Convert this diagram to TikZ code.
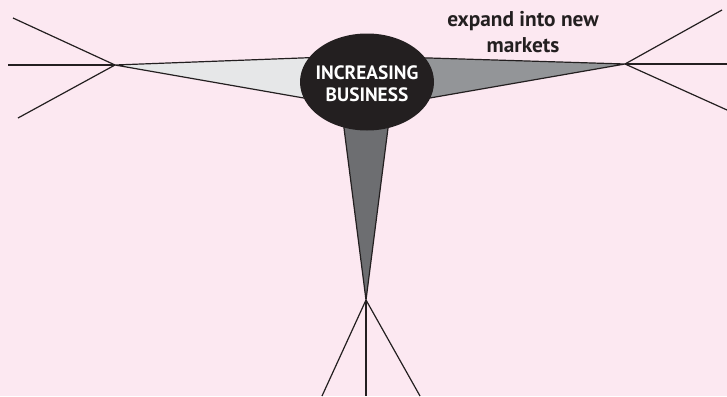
\documentclass[tikz,border=0pt]{standalone}
\usepackage{fontspec}
\setmainfont{PT Sans}
\usetikzlibrary{shapes.geometric}
\definecolor{bgpink}{HTML}{FCE8F1}
\definecolor{inkdark}{HTML}{231F20}
\definecolor{lightwedge}{HTML}{E6E7E8}
\definecolor{midwedge}{HTML}{939598}
\definecolor{darkwedge}{HTML}{6D6E71}
\tikzset{
  spoke/.style={draw=inkdark, line width=0.9pt},
  wedge/.style={draw=inkdark, line width=0.9pt, line join=round},
  hubel/.style={ellipse, fill=inkdark, minimum width=134*0.75pt, minimum height=97*0.75pt, inner sep=0pt, text=white, font=\bfseries\fontsize{14.5}{16.5}\selectfont, align=center},
  lbl/.style={font=\bfseries\fontsize{16}{19}\selectfont, text=inkdark, align=center}
}
\begin{document}
\begin{tikzpicture}[x=0.75pt,y=-0.75pt]
\fill[bgpink] (0,0) rectangle (727,396);
\useasboundingbox (0,0) rectangle (727,396);
% hubs
\coordinate (hl) at (115,65);
\coordinate (hr) at (625,64);
\coordinate (hb) at (366,300);
% spoke ends
\coordinate (l1) at (13,18);
\coordinate (l2) at (8,65);
\coordinate (l3) at (18,118);
\coordinate (r1) at (722,10);
\coordinate (r2) at (727,64);
\coordinate (r3) at (727,110);
\coordinate (b1) at (322,396);
\coordinate (b2) at (366,396);
\coordinate (b3) at (420,396);
% wedge bases (hidden under the ellipse)
\coordinate (lt) at (330,56.9);
\coordinate (lb) at (330,102.6);
\coordinate (rt) at (400,57.1);
\coordinate (rb) at (400,103.2);
\coordinate (bl) at (340.4,100);
\coordinate (br) at (391.6,100);
% wedges
\filldraw[wedge, fill=lightwedge] (hl) -- (lt) -- (lb) -- cycle;
\filldraw[wedge, fill=midwedge] (hr) -- (rt) -- (rb) -- cycle;
\filldraw[wedge, fill=darkwedge] (hb) -- (bl) -- (br) -- cycle;
% spokes
\draw[spoke] (hl) -- (l1);
\draw[spoke] (hl) -- (l2);
\draw[spoke] (hl) -- (l3);
\draw[spoke] (hr) -- (r1);
\draw[spoke] (hr) -- (r2);
\draw[spoke] (hr) -- (r3);
\draw[spoke] (hb) -- (b1);
\draw[spoke] (hb) -- (b2);
\draw[spoke] (hb) -- (b3);
% centre
\node[hubel] (core) at (367,82) {};
\node[text=white, font=\bfseries\fontsize{14.5}{16.5}\selectfont, align=center] (coretext) at (367,84) {INCREASING\\BUSINESS};
% label
\node[lbl] (expand) at (523,32) {expand into new\\markets};
\end{tikzpicture}
\end{document}
